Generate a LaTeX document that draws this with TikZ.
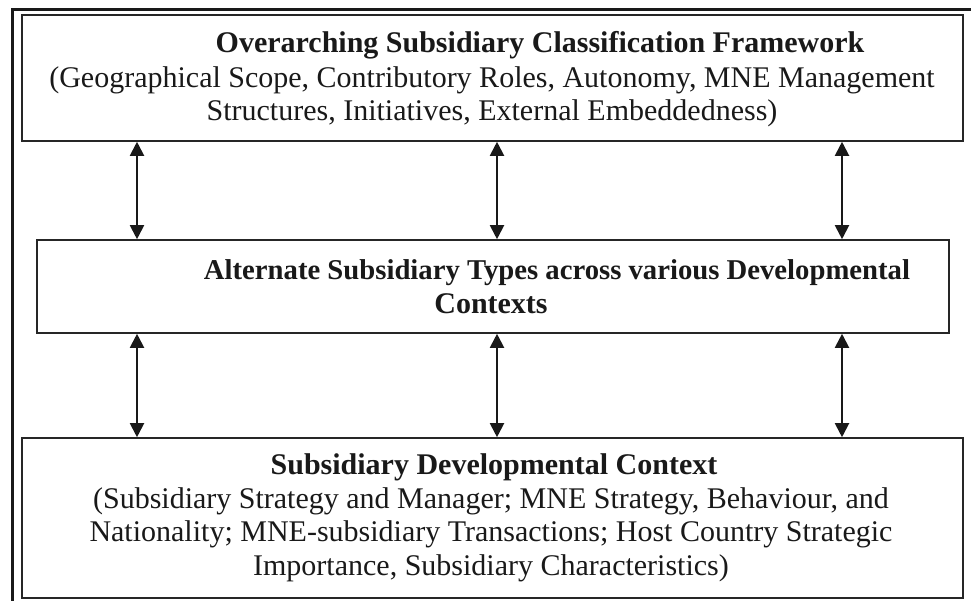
\documentclass[tikz,border=0pt]{standalone}
\usepackage{fontspec}
\setmainfont{Liberation Serif}
\usetikzlibrary{arrows.meta}
\begin{document}
\begin{tikzpicture}[x=1pt,y=-1pt,
  box/.style={draw=black!85, line width=1.6pt, rectangle, inner sep=0pt},
  txt/.style={anchor=base, inner sep=0pt, font=\fontsize{30}{34.5}\selectfont, text=black!90},
  ttl/.style={txt, font=\fontsize{30}{34.5}\selectfont\bfseries},
  arr/.style={line width=2pt, draw=black!90, {Triangle[width=14pt,length=14pt]}-{Triangle[width=14pt,length=14pt]}}]
\useasboundingbox (0,0) rectangle (971,601);
% outer frame (partly cut off)
\draw[line width=3pt, black!90] (12,601) -- (12,10) -- (971,10);
% boxes
\node[box, minimum width=941pt, minimum height=126pt] (top) at (492.5,78) {};
\node[box, minimum width=912pt, minimum height=93pt] (mid) at (493,286.5) {};
\node[box, minimum width=941pt, minimum height=160pt] (bot) at (492.5,518) {};
% texts
\node[ttl] (t1) at (540,53) {Overarching Subsidiary Classification Framework};
\node[txt] (t2) at (492,88) {(Geographical Scope, Contributory Roles, Autonomy, MNE Management};
\node[txt] (t3) at (492,121) {Structures, Initiatives, External Embeddedness)};
\node[ttl, font=\fontsize{28.7}{34.5}\selectfont\bfseries] (m1) at (557,280) {Alternate Subsidiary Types across various Developmental};
\node[ttl] (m2) at (491,313) {Contexts};
\node[ttl] (b1) at (494,474) {Subsidiary Developmental Context};
\node[txt] (b2) at (491,508) {(Subsidiary Strategy and Manager; MNE Strategy, Behaviour, and};
\node[txt] (b3) at (491,541) {Nationality; MNE-subsidiary Transactions; Host Country Strategic};
\node[txt] (b4) at (491,575) {Importance, Subsidiary Characteristics)};
% arrow columns
\coordinate (c1) at (137,0);
\coordinate (c2) at (497,0);
\coordinate (c3) at (842,0);
\foreach \c in {c1,c2,c3}{
  \draw[arr] (top.south -| \c) -- (mid.north -| \c);
  \draw[arr] (mid.south -| \c) -- (bot.north -| \c);
}
\end{tikzpicture}
\end{document}
